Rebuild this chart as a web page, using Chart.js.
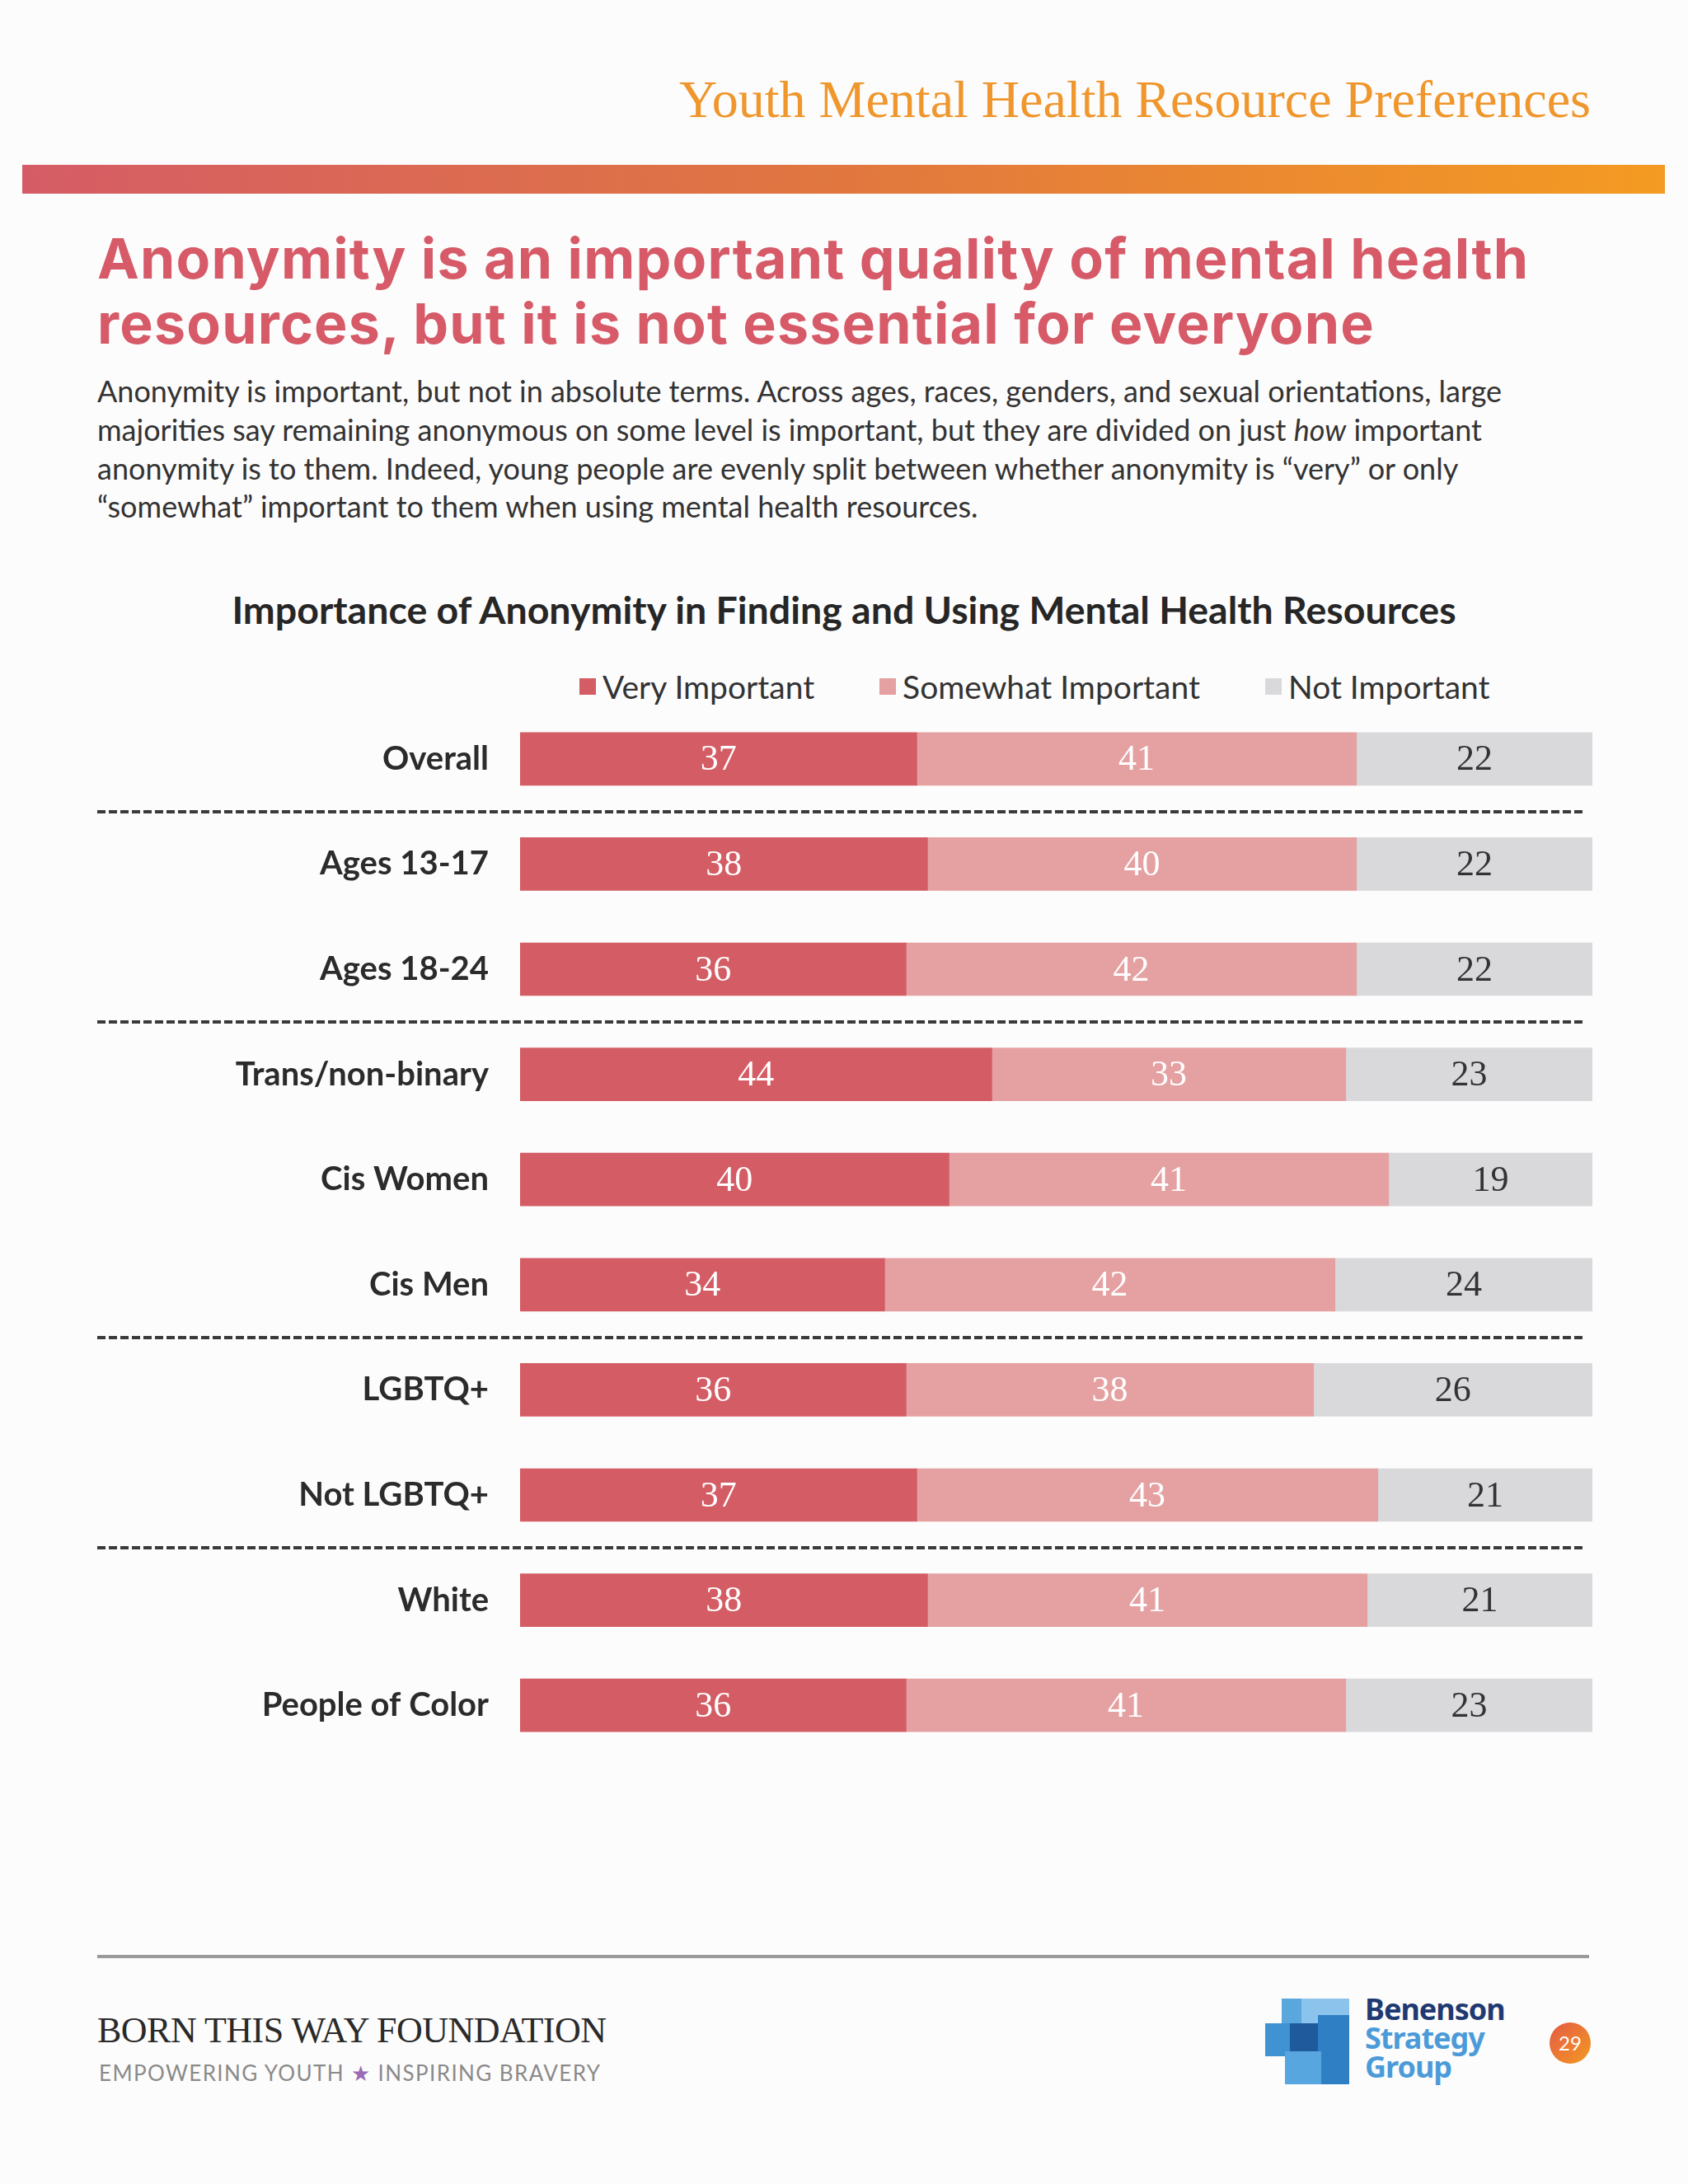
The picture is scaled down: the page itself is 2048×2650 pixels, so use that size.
<!DOCTYPE html>
<html>
<head>
<meta charset="utf-8">
<script src="https://cdn.jsdelivr.net/npm/chart.js@4.4.0/dist/chart.umd.min.js"></script>
<style>
  html, body { margin: 0; padding: 0; }
  body { width: 2048px; height: 2650px; background: #fdfcfc; position: relative; overflow: hidden; font-family: Lato, sans-serif; }
  .abs { position: absolute; }
  #kicker { right: 118px; top: 84px; font-family: 'Liberation Serif', serif; font-size: 64px; color: #ef962c; white-space: nowrap; }
  #band { left: 27px; top: 200px; width: 1993px; height: 35px; background: linear-gradient(90deg, #d55c66 0%, #e1773f 50%, #f49b22 100%); }
  #headline { left: 118px; top: 274px; font-family: Inter, 'Open Sans', sans-serif; font-weight: 700; font-size: 68px; line-height: 79px; color: #d65a67; white-space: nowrap; letter-spacing: 1.2px; }
  #intro { left: 118px; top: 451px; font-size: 36px; line-height: 46.8px; color: #333; white-space: nowrap; }
  #ctitle { left: 0; width: 2048px; top: 711px; text-align: center; font-weight: 700; font-size: 46.5px; color: #262626; }
  #legend { left: 703px; top: 810px; display: flex; gap: 79px; font-size: 39px; color: #333; }
  #legend .item { display: flex; align-items: center; }
  #legend .sw { width: 20px; height: 20px; margin-right: 8px; }
  #wrap { left: 0; top: 850px; width: 2048px; height: 1300px; }
  #rule { left: 118px; top: 2372px; width: 1810px; height: 4px; background: #9a9a9a; }
  #btw { left: 118px; top: 2438px; font-family: 'Liberation Serif', serif; font-size: 44px; color: #2a2a2a; white-space: nowrap; letter-spacing: -0.5px; }
  #tag { left: 120px; top: 2499px; font-size: 26px; color: #8a8a8a; letter-spacing: 1.4px; white-space: nowrap; }
  #tag span { color: #9b6bb5; }
  #logo { left: 1535px; top: 2425px; width: 104px; height: 104px; }
  #logo div { position: absolute; }
  #bsg { left: 1656px; top: 2420px; font-family: 'Noto Sans', sans-serif; font-weight: 700; font-size: 36px; line-height: 35px; letter-spacing: -1px; }
  #pg { left: 1880px; top: 2454px; width: 50px; height: 50px; border-radius: 50%; background: linear-gradient(135deg, #e35a45, #f39a22); color: #fff; font-size: 24px; text-align: center; line-height: 50px; }
</style>
</head>
<body>
<div class="abs" id="kicker">Youth Mental Health Resource Preferences</div>
<div class="abs" id="band"></div>
<div class="abs" id="headline">Anonymity is an important quality of mental health<br>resources, but it is not essential for everyone</div>
<div class="abs" id="intro">Anonymity is important, but not in absolute terms. Across ages, races, genders, and sexual orientations, large<br>majorities say remaining anonymous on some level is important, but they are divided on just <i>how</i> important<br>anonymity is to them. Indeed, young people are evenly split between whether anonymity is “very” or only<br>“somewhat” important to them when using mental health resources.</div>
<div class="abs" id="ctitle">Importance of Anonymity in Finding and Using Mental Health Resources</div>
<div class="abs" id="legend"></div>
<div class="abs" id="wrap"><canvas id="bars"></canvas></div>
<div class="abs" id="rule"></div>
<div class="abs" id="btw">BORN THIS WAY FOUNDATION</div>
<div class="abs" id="tag">EMPOWERING YOUTH <span>★</span> INSPIRING BRAVERY</div>
<div class="abs" id="logo">
  <div style="left:20px;top:0;width:44px;height:60px;background:#5aa7de"></div>
  <div style="left:44px;top:0;width:58px;height:36px;background:#8cc3ec"></div>
  <div style="left:0;top:30px;width:60px;height:40px;background:#3f93d3"></div>
  <div style="left:30px;top:30px;width:40px;height:40px;background:#1f5a9c"></div>
  <div style="left:64px;top:20px;width:38px;height:84px;background:#2f7fc4"></div>
  <div style="left:24px;top:64px;width:44px;height:40px;background:#58a6df"></div>
</div>
<div class="abs" id="bsg"><span style="color:#1f3a72">Benenson</span><br><span style="color:#4b9bd9">Strategy</span><br><span style="color:#4b9bd9">Group</span></div>
<div class="abs" id="pg">29</div>

<script>
const categories = ['Overall', 'Ages 13-17', 'Ages 18-24', 'Trans/non-binary', 'Cis Women', 'Cis Men', 'LGBTQ+', 'Not LGBTQ+', 'White', 'People of Color'];
const veryImportant = [37, 38, 36, 44, 40, 34, 36, 37, 38, 36];
const somewhatImportant = [41, 40, 42, 33, 41, 42, 38, 43, 41, 41];
const notImportant = [22, 22, 22, 23, 19, 24, 26, 21, 21, 23];
const seriesNames = ['Very Important', 'Somewhat Important', 'Not Important'];
const seriesColors = ['#d45c65', '#e5a1a2', '#d9d8db'];
const labelColors = ['#ffffff', '#ffffff', '#333333'];
// dashed rules go after these rows
const groupBreaks = [0, 2, 5, 7];

// value in the middle of every bar segment
const valueLabels = {
  id: 'valueLabels',
  afterDatasetsDraw(chart) {
    const ctx = chart.ctx;
    const right = chart.chartArea.right;
    ctx.save();
    ctx.font = '44px "Liberation Serif", serif';
    ctx.textAlign = 'center';
    ctx.textBaseline = 'middle';
    chart.data.datasets.forEach((ds, i) => {
      chart.getDatasetMeta(i).data.forEach((bar, j) => {
        const x = (Math.min(bar.x, right) + bar.base) / 2;
        ctx.fillStyle = labelColors[i];
        ctx.fillText(ds.data[j], x, bar.y + 2);
      });
    });
    ctx.restore();
  }
};

const groupRules = {
  id: 'groupRules',
  afterDraw(chart) {
    const ctx = chart.ctx;
    const y = chart.scales.y;
    ctx.save();
    ctx.strokeStyle = '#3a3a3a';
    ctx.lineWidth = 4;
    ctx.setLineDash([10, 4]);
    groupBreaks.forEach(i => {
      const py = Math.round((y.getPixelForValue(i) + y.getPixelForValue(i + 1)) / 2);
      ctx.beginPath();
      ctx.moveTo(118, py);
      ctx.lineTo(1923, py);
      ctx.stroke();
    });
    ctx.restore();
  }
};

const barConfig = {
  type: 'bar',
  data: {
    labels: categories,
    datasets: [
      { label: seriesNames[0], data: veryImportant, backgroundColor: seriesColors[0] },
      { label: seriesNames[1], data: somewhatImportant, backgroundColor: seriesColors[1] },
      { label: seriesNames[2], data: notImportant, backgroundColor: seriesColors[2] },
    ],
  },
  options: {
    indexAxis: 'y',
    responsive: true,
    maintainAspectRatio: false,
    animation: false,
    barThickness: 64,
    layout: { padding: { top: 7, right: 116, bottom: 17, left: 0 } },
    scales: {
      x: { stacked: true, min: 0, max: 100, display: false },
      y: {
        stacked: true,
        grid: { display: false, drawTicks: false },
        border: { display: false },
        ticks: { padding: 38, color: '#2b2b2b', font: { family: 'Lato', size: 40, weight: 'bold' } },
        afterFit(scale) {
          scale.width = 631;
          scale.paddingTop = 0;
          scale.paddingBottom = 0;
        },
      },
    },
    plugins: {
      legend: { display: false },
      tooltip: { enabled: false },
    },
  },
  plugins: [valueLabels, groupRules],
};

window.barChart = new Chart(document.getElementById('bars'), barConfig);

// html legend, built from the chart's datasets
const legendEl = document.getElementById('legend');
barChart.data.datasets.forEach(ds => {
  const item = document.createElement('div');
  item.className = 'item';
  item.innerHTML = '<span class="sw" style="background:' + ds.backgroundColor + '"></span>' + ds.label;
  legendEl.appendChild(item);
});
</script>
</body>
</html>
